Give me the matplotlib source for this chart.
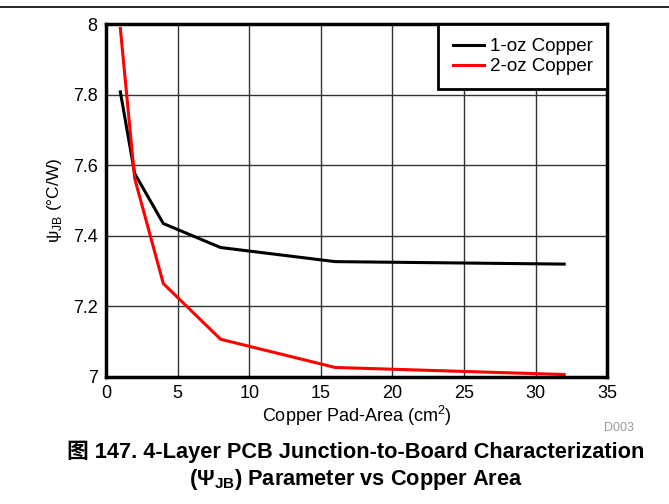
import matplotlib
matplotlib.use("Agg")
import matplotlib.pyplot as plt
from matplotlib.lines import Line2D

# copper pad area (cm^2) and psi_JB (C/W)
area = [1, 2, 4, 8, 16, 32]
psi_1oz = [7.808, 7.577, 7.435, 7.367, 7.327, 7.320]
psi_2oz = [7.988, 7.563, 7.265, 7.107, 7.027, 7.007]
series_labels = ["1-oz Copper", "2-oz Copper"]
x_ticks = [0, 5, 10, 15, 20, 25, 30, 35]
y_ticks = [7, 7.2, 7.4, 7.6, 7.8, 8]
y_tick_labels = ["7", "7.2", "7.4", "7.6", "7.8", "8"]

plt.rcParams['font.family'] = ['Liberation Sans', 'Noto Sans CJK SC', 'DejaVu Sans']
plt.rcParams['mathtext.fontset'] = 'custom'
plt.rcParams['mathtext.rm'] = 'Liberation Sans'
plt.rcParams['mathtext.bf'] = 'Liberation Sans:bold'

fig = plt.figure(figsize=(6.69, 5.04), dpi=100)
ax = fig.add_axes([0.1585, 0.252, 0.749, 0.700])

ax.plot(area, psi_1oz, color='black', lw=2.2, label=series_labels[0])
ax.plot(area, psi_2oz, color='#ff0000', lw=2.2, label=series_labels[1])

ax.set_xlim(0, 35)
ax.set_ylim(7, 8)
ax.set_xticks(x_ticks)
ax.set_yticks(y_ticks)
ax.set_yticklabels(y_tick_labels)
ax.tick_params(length=0, labelsize=13, pad=6)
ax.grid(True, color='#333333', lw=1.0)
ax.set_axisbelow(True)
for s in ax.spines.values():
    s.set_linewidth(2.5)

ax.set_xlabel("Copper Pad-Area (cm$^{2}$)", fontsize=13, labelpad=1)
ax.set_ylabel("ψ$_{\\mathrm{JB}}$ (°C/W)", fontsize=12.5, labelpad=6)

leg = ax.legend(loc='upper right', fontsize=13.5, fancybox=False, framealpha=1,
                edgecolor='black', borderaxespad=0, handlelength=1.7,
                handletextpad=0.3, borderpad=0.75, labelspacing=0.15)
leg.get_frame().set_linewidth(2.0)

# rule across the top of the page
fig.add_artist(Line2D([0, 1], [0.986, 0.986], color='black', lw=1.2,
                      transform=fig.transFigure))

fig.text(0.925, 0.151, "D003", fontsize=9, color='#999999', ha='center', va='center')
fig.text(0.532, 0.103, "图 147. 4-Layer PCB Junction-to-Board Characterization",
         fontsize=15.7, fontweight='bold', ha='center', va='center')
fig.text(0.532, 0.048, "($\\mathbf{\\Psi_{JB}}$) Parameter vs Copper Area",
         fontsize=15.7, fontweight='bold', ha='center', va='center')

fig.savefig("out.png", dpi=100)
